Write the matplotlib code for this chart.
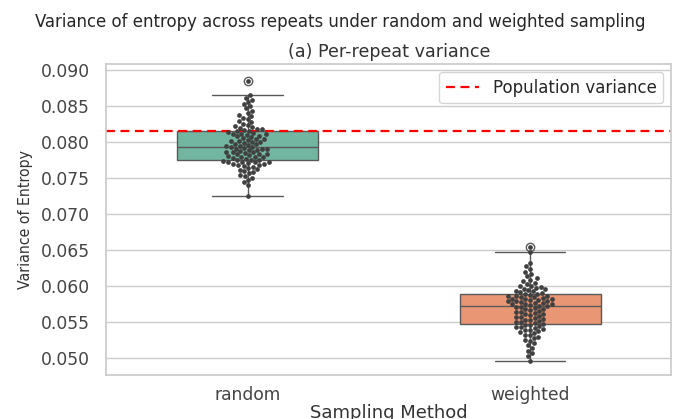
import matplotlib
matplotlib.use("Agg")
import matplotlib.pyplot as plt
import numpy as np
import pandas as pd
import seaborn as sns

# per-repeat variance of entropy
random_var = [
    0.0725, 0.0741, 0.0745, 0.0748, 0.0751, 0.0753, 0.0755, 0.0757, 0.0759, 0.0760,
    0.0762, 0.0763, 0.0764, 0.0766, 0.0767, 0.0768, 0.0769, 0.0770, 0.0770, 0.0771,
    0.0772, 0.0772, 0.0773, 0.0773, 0.0774,
    0.0775, 0.0776, 0.0776, 0.0777, 0.0778, 0.0779, 0.0780, 0.0780, 0.0781, 0.0782,
    0.0783, 0.0783, 0.0784, 0.0785, 0.0786, 0.0786, 0.0787, 0.0788, 0.0789, 0.0789,
    0.0790, 0.0791, 0.0791, 0.0792, 0.0793,
    0.0794, 0.0795, 0.0795, 0.0796, 0.0797, 0.0798, 0.0799, 0.0800, 0.0801, 0.0802,
    0.0802, 0.0803, 0.0804, 0.0805, 0.0806, 0.0807, 0.0808, 0.0809, 0.0810, 0.0811,
    0.0811, 0.0812, 0.0813, 0.0814, 0.0815,
    0.0816, 0.0817, 0.0818, 0.0819, 0.0820, 0.0821, 0.0822, 0.0824, 0.0826, 0.0828,
    0.0830, 0.0832, 0.0834, 0.0836, 0.0838, 0.0841, 0.0844, 0.0847, 0.0850, 0.0853,
    0.0856, 0.0859, 0.0862, 0.0866, 0.0885,
]
weighted_var = [
    0.0497, 0.0503, 0.0507, 0.0511, 0.0515, 0.0518, 0.0521, 0.0524, 0.0526, 0.0528,
    0.0530, 0.0532, 0.0533, 0.0535, 0.0536, 0.0538, 0.0539, 0.0540, 0.0541, 0.0542,
    0.0543, 0.0544, 0.0545, 0.0546, 0.0547,
    0.0548, 0.0549, 0.0550, 0.0551, 0.0552, 0.0553, 0.0554, 0.0555, 0.0556, 0.0557,
    0.0558, 0.0559, 0.0560, 0.0561, 0.0562, 0.0563, 0.0564, 0.0565, 0.0566, 0.0567,
    0.0568, 0.0569, 0.0570, 0.0571, 0.0572,
    0.0573, 0.0573, 0.0574, 0.0575, 0.0575, 0.0576, 0.0577, 0.0577, 0.0578, 0.0579,
    0.0579, 0.0580, 0.0581, 0.0581, 0.0582, 0.0583, 0.0583, 0.0584, 0.0585, 0.0585,
    0.0586, 0.0587, 0.0587, 0.0588, 0.0589,
    0.0590, 0.0591, 0.0592, 0.0593, 0.0594, 0.0595, 0.0596, 0.0597, 0.0598, 0.0599,
    0.0600, 0.0601, 0.0603, 0.0605, 0.0607, 0.0609, 0.0611, 0.0614, 0.0617, 0.0620,
    0.0624, 0.0628, 0.0632, 0.0648, 0.0655,
]
methods = ["random", "weighted"]
population_variance = 0.0816
yticks = [0.050, 0.055, 0.060, 0.065, 0.070, 0.075, 0.080, 0.085, 0.090]

df = pd.DataFrame({
    "method": [methods[0]] * len(random_var) + [methods[1]] * len(weighted_var),
    "variance": random_var + weighted_var,
})

sns.set_theme(style="whitegrid")

fig, ax = plt.subplots(figsize=(6.81, 4.19), dpi=100)
fig.subplots_adjust(left=0.156, right=0.986, top=0.848, bottom=0.105)

sns.boxplot(data=df, x="method", y="variance", hue="method", palette="Set2",
            width=0.5, legend=False, ax=ax)
sns.swarmplot(data=df, x="method", y="variance", color=".25", size=3.4, ax=ax)
ax.axhline(population_variance, color="red", linestyle="--", linewidth=1.6,
           dashes=(4, 2.5), label="Population variance")

ax.set_ylim(0.0477, 0.0909)
ax.set_yticks(yticks)
ax.set_yticklabels([f"{v:.3f}" for v in yticks])
ax.tick_params(axis="both", labelsize=12.3, colors="#444444")
ax.tick_params(axis="y", pad=6)
ax.tick_params(axis="x", pad=2)
ax.set_xlabel("Sampling Method", fontsize=13, color="#333333", labelpad=0)
ax.set_ylabel("Variance of Entropy", fontsize=11.3, color="#333333",
              fontstretch="condensed", labelpad=5)
ax.set_title("(a) Per-repeat variance", fontsize=12.6, color="#333333", pad=5)
ax.legend(loc="upper right", fontsize=12)

fig.suptitle("Variance of entropy across repeats under random and weighted sampling",
             fontsize=13.2, fontstretch="condensed", y=0.968)

fig.savefig("out.png", dpi=100)
